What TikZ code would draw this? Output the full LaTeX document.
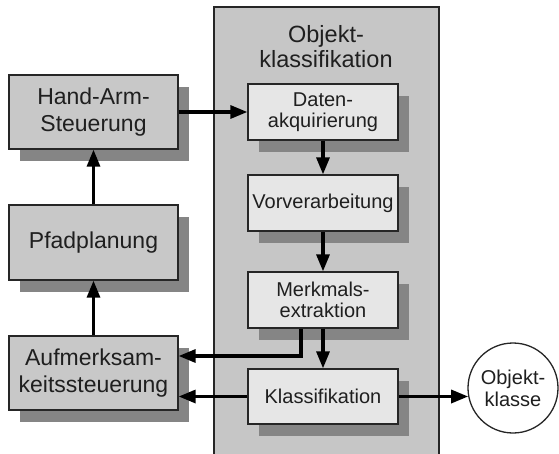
\documentclass[tikz,border=0pt]{standalone}
\usepackage{fontspec}
\setmainfont{Liberation Sans}
\usetikzlibrary{arrows.meta,shadows}
\definecolor{outerfill}{HTML}{C8C8C8}
\definecolor{contfill}{HTML}{C6C6C6}
\definecolor{innerfill}{HTML}{E6E6E6}
\definecolor{shadowgray}{HTML}{858585}
\definecolor{edge}{HTML}{262626}
\begin{document}
\begin{tikzpicture}[x=1pt,y=-1pt,
  shadowed/.style={drop shadow={shadow xshift=11pt,shadow yshift=-12pt,fill=shadowgray,opacity=1}},
  outerbox/.style={draw=edge,line width=1.3pt,fill=outerfill,shadowed,minimum width=169pt,minimum height=74pt,align=center,inner sep=0pt,
    font=\fontsize{23}{27}\selectfont,text=black!88},
  innerbox/.style={draw=edge,line width=1.3pt,fill=innerfill,shadowed,minimum width=150pt,minimum height=56pt,align=center,inner sep=0pt,
    font=\fontsize{20}{21.5}\selectfont,text=black!88},
  arr/.style={line width=3.2pt,-{Triangle[length=17pt,width=13pt]}}]
\useasboundingbox (0,0) rectangle (559,453);
% container
\fill[contfill] (214,7) rectangle (439,460);
\draw[edge,line width=1.3pt] (214,460) -- (214,7) -- (439,7) -- (439,460);
\node[font=\fontsize{23.5}{25}\selectfont,align=center,text=black!88] (title) at (326,47) {Objekt-\\klassifikation};
% outer boxes
\node[outerbox] (ha) at (93.5,112) {Hand-Arm-\\Steuerung};
\node[outerbox,minimum height=75pt] (pf) at (93.5,242.5) {Pfadplanung};
\node[outerbox] (au) at (93.5,373) {Aufmerksam-\\keitssteuerung};
% inner boxes
\node[innerbox] (da) at (323,112) {Daten-\\akquirierung};
\node[innerbox] (vv) at (323,203) {Vorverarbeitung};
\node[innerbox] (me) at (323,300) {Merkmals-\\extraktion};
\node[innerbox,minimum height=55pt] (kl) at (323,396.5) {Klassifikation};
% circle
\node[draw=edge,line width=1.3pt,fill=white,circle,minimum size=90pt,inner sep=0pt,align=center,
  font=\fontsize{20}{22}\selectfont,text=black!88] (ok) at (513,388) {Objekt-\\klasse};
% connectors
\coordinate (c1) at (301,356);
\draw[arr] (au.north) -- (pf.south);
\draw[arr] (pf.north) -- (ha.south);
\draw[arr] (ha.east) -- (da.west);
\draw[arr] (da.south) -- (vv.north);
\draw[arr] (vv.south) -- (me.north);
\draw[arr] (me.south) -- (kl.north);
\draw[arr] (me.south -| c1) |- (au.east |- c1);
\draw[arr] (kl.west) -- (au.east |- kl.west);
\draw[arr] (kl.east) -- (kl.east -| ok.191.5);
\end{tikzpicture}
\end{document}
